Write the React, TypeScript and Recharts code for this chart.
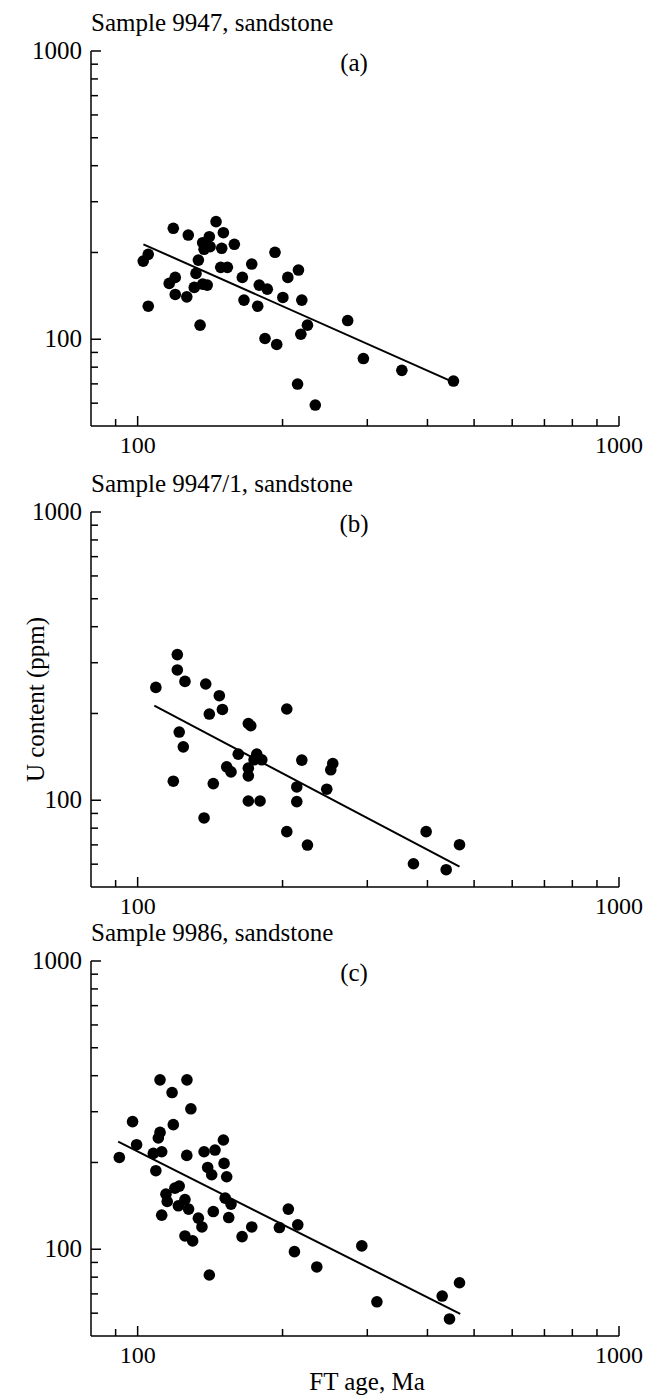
import React from "react";
import { ScatterChart, Scatter, XAxis, YAxis, ReferenceLine, Customized } from "recharts";

const FONT = '"Liberation Serif", "Times New Roman", Times, serif';

const X_TICKS = [90, 100, 200, 300, 400, 500, 600, 700, 800, 900, 1000];
const Y_TICKS = [60, 70, 80, 90, 100, 200, 300, 400, 500, 600, 700, 800, 900, 1000];
const MAJOR = [100, 1000];

// panel (a) sample 9947
const ageA = [102.7, 105.2, 105.2, 118.6, 116.3, 119.7, 119.7, 127.4, 126.5, 132.2, 131.1, 133.7, 134.8, 136.5, 137.4, 140.9, 141.4, 136.5, 139.5, 145.5, 150.7, 149.5, 148.8, 153.6, 158.8, 165.0, 166.3, 172.6, 178.9, 185.9, 177.6, 192.9, 183.9, 194.5, 200.3, 205.1, 215.8, 219.3, 225.3, 218.3, 214.9, 233.9, 273.1, 294.4, 353.9, 453.0];
const uA = [186.7, 197, 130.2, 242.6, 156.2, 163.9, 143.0, 229.9, 140.3, 169.2, 151.3, 188.2, 111.9, 216.2, 205.1, 226.8, 209.4, 155.3, 154.1, 255.8, 234.2, 206.8, 177.6, 177.6, 213.5, 163.9, 136.7, 182.3, 154.1, 149.2, 130.2, 200.3, 100.6, 95.9, 139.6, 163.9, 173.8, 136.7, 111.9, 104.1, 69.9, 59.1, 116.1, 85.7, 78.0, 71.6];
const fitA = [[102.8, 213.5], [452.6, 71.0]];

// panel (b) sample 9947/1
const ageB = [109.1, 120.9, 120.9, 125.4, 122.0, 124.4, 118.6, 138.5, 147.8, 140.9, 150.0, 137.4, 143.6, 153.1, 156.3, 161.8, 169.8, 171.8, 169.8, 169.8, 176.8, 174.5, 181.1, 169.8, 179.6, 204.1, 219.3, 214.1, 214.1, 204.1, 225.3, 247.1, 251.9, 254.3, 397.5, 374.1, 437.5, 466.3];
const uB = [246.3, 320.1, 283.1, 258.4, 172.4, 153.2, 116.4, 253.1, 230.5, 199.1, 206.5, 86.8, 114.2, 130.6, 125.4, 144.5, 184.6, 181.3, 129.2, 121.5, 144.5, 138.1, 138.1, 99.4, 99.4, 207.3, 137.8, 111.2, 98.9, 77.8, 69.9, 109.2, 127.5, 134.1, 77.8, 60.2, 57.4, 70.1];
const fitB = [[108.3, 212.8], [466.3, 58.8]];

// panel (c) sample 9986
const ageC = [91.6, 97.6, 99.5, 107.8, 112.2, 110.4, 111.3, 118.6, 109.1, 126.5, 114.5, 115.2, 119.5, 122.0, 125.4, 121.5, 127.6, 112.2, 133.7, 136.0, 125.4, 130.1, 137.4, 144.8, 150.7, 139.8, 142.5, 151.2, 153.1, 152.0, 156.3, 143.6, 154.6, 140.9, 164.8, 172.6, 197.0, 205.6, 215.1, 211.7, 235.6, 292.2, 314.1, 429.2, 466.3, 444.5, 111.3, 126.6, 129.0, 117.9];
const uC = [208.2, 277.1, 230.5, 215.0, 217.9, 243.2, 254.3, 270.5, 187.3, 211.6, 155.3, 146.4, 162.9, 165.6, 148.8, 141.5, 137.8, 131.3, 128.2, 119.5, 111.2, 106.9, 217.9, 220.9, 239.3, 192.2, 181.3, 198.5, 178.4, 150.4, 143.4, 135.1, 128.8, 81.4, 110.6, 119.5, 118.9, 137.8, 121.5, 98.1, 86.8, 102.7, 65.7, 68.8, 76.5, 57.3, 387, 387, 307, 349.6];
const fitC = [[91.1, 236.1], [467.8, 59.7]];

const W = 656;
const H = 490;

function YTick({ x, y, payload }: any) {
  const v = payload.value;
  const major = MAJOR.includes(v);
  return (
    <g>
      <line x1={x} x2={x + (major ? 10 : 7)} y1={y} y2={y} stroke="#000" strokeWidth={1.5} />
      {major && (
        <text x={x - 9} y={y + 8} textAnchor="end" fontFamily={FONT} fontSize={25} fill="#000">
          {v}
        </text>
      )}
    </g>
  );
}

function XTick({ x, y, payload }: any) {
  const v = payload.value;
  const major = MAJOR.includes(v);
  return (
    <g>
      <line x1={x} x2={x} y1={y} y2={y - (major ? 10 : 7)} stroke="#000" strokeWidth={1.5} />
      {major && (
        <text x={x} y={y + 27} textAnchor="middle" fontFamily={FONT} fontSize={24} fill="#000">
          {v}
        </text>
      )}
    </g>
  );
}

const dot = (p: any) => <circle cx={p.cx} cy={p.cy} r={5.8} fill="#000" />;

interface PanelProps {
  top: number;
  title: string;
  tag: string;
  ages: number[];
  u: number[];
  fit: number[][];
  yTitle?: boolean;
  xTitle?: boolean;
}

function Panel({ top, title, tag, ages, u, fit, yTitle, xTitle }: PanelProps) {
  const data = ages.map((a, i) => ({ age: a, u: u[i] }));
  return (
    <div style={{ position: "absolute", left: 0, top, width: W, height: H }}>
      <ScatterChart width={W} height={H} margin={{ top: 51, right: 37, left: 0, bottom: 0 }}>
        <XAxis
          dataKey="age"
          type="number"
          scale="log"
          domain={[80, 1000]}
          allowDataOverflow
          ticks={X_TICKS}
          interval={0}
          height={64}
          tickSize={0}
          tickMargin={0}
          tickLine={false}
          tick={<XTick />}
          axisLine={{ stroke: "#000", strokeWidth: 1.5 }}
        />
        <YAxis
          dataKey="u"
          type="number"
          scale="log"
          domain={[50, 1000]}
          allowDataOverflow
          ticks={Y_TICKS}
          interval={0}
          width={91}
          tickSize={0}
          tickMargin={0}
          tickLine={false}
          tick={<YTick />}
          axisLine={{ stroke: "#000", strokeWidth: 1.5 }}
        />
        <ReferenceLine
          segment={[
            { x: fit[0][0], y: fit[0][1] },
            { x: fit[1][0], y: fit[1][1] },
          ]}
          stroke="#000"
          strokeWidth={2}
        />
        <Scatter data={data} shape={dot} isAnimationActive={false} />
        <Customized
          component={() => (
            <g fontFamily={FONT} fill="#000">
              <text x={91} y={31} fontSize={25}>{title}</text>
              <text x={354} y={71} fontSize={25} textAnchor="middle">{tag}</text>
              {yTitle && (
                <text
                  x={35}
                  y={238.5}
                  fontSize={25}
                  textAnchor="middle"
                  dominantBaseline="central"
                  transform="rotate(-90 35 238.5)"
                >
                  U content (ppm)
                </text>
              )}
              {xTitle && (
                <text x={367} y={480} fontSize={25} textAnchor="middle">FT age, Ma</text>
              )}
            </g>
          )}
        />
      </ScatterChart>
    </div>
  );
}

export default function App() {
  return (
    <div style={{ position: "absolute", left: 0, top: 0, width: W, height: 1397, background: "#fff" }}>
      <Panel top={0} title="Sample 9947, sandstone" tag="(a)" ages={ageA} u={uA} fit={fitA} />
      <Panel top={461} title="Sample 9947/1, sandstone" tag="(b)" ages={ageB} u={uB} fit={fitB} yTitle />
      <Panel top={910} title="Sample 9986, sandstone" tag="(c)" ages={ageC} u={uC} fit={fitC} xTitle />
    </div>
  );
}
